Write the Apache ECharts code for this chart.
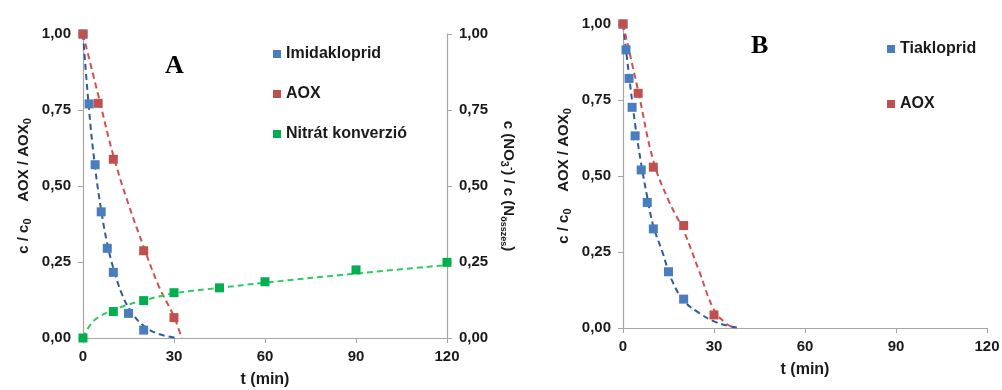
<!DOCTYPE html>
<html>
<head>
<meta charset="utf-8">
<script src="https://cdn.jsdelivr.net/npm/echarts@6/dist/echarts.min.js"></script>
<style>
  html, body { margin: 0; padding: 0; background: #fff; }
  #chart { width: 1002px; height: 390px; }
</style>
</head>
<body>
<div id="chart"></div>
<script>
// ---- panel A: Imidakloprid ----
const timeImidA = [0, 2, 4, 6, 8, 10, 15, 20];
const imidA = [1.00, 0.77, 0.57, 0.415, 0.295, 0.216, 0.081, 0.026];
const timeAoxA = [0, 5, 10, 20, 30];
const aoxA = [1.00, 0.772, 0.588, 0.287, 0.067];
const timeNitA = [0, 10, 20, 30, 45, 60, 90, 120];
const nitA = [0, 0.087, 0.123, 0.149, 0.165, 0.185, 0.224, 0.249];

// dashed fit curves
const fitTimeImidA = [0, 2, 4, 6, 8, 10, 13, 16, 20, 25, 31];
const fitImidA = [1.0, 0.75, 0.56, 0.42, 0.31, 0.23, 0.14, 0.085, 0.04, 0.013, 0];
const fitTimeAoxA = [0, 5, 10, 15, 20, 25, 30, 32.5];
const fitAoxA = [1.0, 0.80, 0.60, 0.44, 0.30, 0.17, 0.07, 0];
const fitTimeNitA = [0, 2.5, 5, 10, 15, 20, 30, 45, 60, 90, 120];
const fitNitA = [0, 0.045, 0.068, 0.092, 0.11, 0.124, 0.147, 0.165, 0.182, 0.212, 0.24];

// ---- panel B: Tiakloprid ----
const timeTiaB = [0, 1, 2, 3, 4, 6, 8, 10, 15, 20];
const tiaB = [1.00, 0.915, 0.821, 0.726, 0.632, 0.520, 0.413, 0.326, 0.185, 0.095];
const timeAoxB = [0, 5, 10, 20, 30];
const aoxB = [1.00, 0.772, 0.529, 0.337, 0.043];

const fitTimeTiaB = [0, 2, 4, 6, 8, 10, 13, 16, 20, 25, 30, 35, 38.5];
const fitTiaB = [1.0, 0.83, 0.67, 0.54, 0.43, 0.335, 0.25, 0.16, 0.09, 0.05, 0.022, 0.006, 0];
const fitTimeAoxB = [0, 5, 10, 15, 20, 25, 30, 34, 37];
const fitAoxB = [1.0, 0.78, 0.55, 0.42, 0.32, 0.19, 0.06, 0.015, 0];

const FONT = '"Liberation Sans", Arial, sans-serif';
const BLUE = '#4a7dbd', RED = '#c0504d', GREEN = '#00b050';
const BLUE_LINE = '#2f5b9a', RED_LINE = '#d0504d', GREEN_LINE = '#2ecc5f';

const pairs = (xs, ys) => xs.map((x, i) => [x, ys[i]]);
const comma = v => v.toFixed(2).replace('.', ',');

const axisLine = { lineStyle: { color: '#a6a6a6', width: 1.2 } };
const tickLabel = { fontFamily: FONT, fontWeight: 'bold', fontSize: 15, color: '#1a1a1a' };
const txt = { fontFamily: FONT, fontWeight: 'bold', color: '#1a1a1a' };
const nameRich = {
  n: { ...txt, fontSize: 15, lineHeight: 18 },
  s: { ...txt, fontSize: 11, lineHeight: 18, verticalAlign: 'bottom' },
  sup: { ...txt, fontSize: 10, lineHeight: 18, verticalAlign: 'top' },
  sub2: { ...txt, fontSize: 9, lineHeight: 18, verticalAlign: 'bottom' }
};

function xAxisFor(gridIndex) {
  return {
    type: 'value', gridIndex, min: 0, max: 120, interval: 30,
    axisLine: { show: true, ...axisLine },
    axisTick: { show: true, length: 5, lineStyle: { color: '#a6a6a6' } },
    splitLine: { show: false },
    axisLabel: { ...tickLabel, margin: 11 },
    name: 't (min)', nameLocation: 'middle', nameGap: 34,
    nameTextStyle: { ...txt, fontSize: 16 }
  };
}

function yAxisFor(gridIndex, position, name, nameGap, rotate) {
  return {
    type: 'value', gridIndex, position, min: 0, max: 1, interval: 0.25,
    axisLine: { show: true, ...axisLine },
    axisTick: { show: true, length: 5, lineStyle: { color: '#a6a6a6' } },
    splitLine: { show: false },
    axisLabel: { ...tickLabel, margin: 12, formatter: comma },
    name, nameLocation: 'middle', nameGap, nameRotate: rotate,
    nameTextStyle: { rich: nameRich }
  };
}

function points(name, xs, ys, color, xi, yi) {
  return {
    name, type: 'scatter', xAxisIndex: xi, yAxisIndex: yi,
    data: pairs(xs, ys), symbol: 'rect', symbolSize: 9,
    itemStyle: { color, opacity: 1 }, z: 5
  };
}

function curve(xs, ys, color, xi, yi) {
  return {
    type: 'line', xAxisIndex: xi, yAxisIndex: yi,
    data: pairs(xs, ys), smooth: 0.4, showSymbol: false, silent: true,
    lineStyle: { color, width: 2, type: [6, 4] }, z: 3
  };
}

const chart = echarts.init(document.getElementById('chart'));

chart.setOption({
  animation: false,
  backgroundColor: '#fff',
  grid: [
    { left: 83, top: 34, width: 364, height: 304, outerBoundsMode: 'none' },
    { left: 623, top: 24, width: 364, height: 304, outerBoundsMode: 'none' }
  ],
  xAxis: [xAxisFor(0), xAxisFor(1)],
  yAxis: [
    yAxisFor(0, 'left', '{n|c / c}{s|0}{n|    AOX / AOX}{s|0}', 50, 90),
    yAxisFor(0, 'right', '{n|c (NO}{s|3}{sup|-}{n|) / c (N}{sub2|összes}{n|)}', 52, -90),
    yAxisFor(1, 'left', '{n|c / c}{s|0}{n|    AOX / AOX}{s|0}', 50, 90)
  ],
  legend: [
    {
      data: ['Imidakloprid', 'AOX', 'Nitrát konverzió'],
      orient: 'vertical', left: 268, top: 41, itemGap: 24,
      icon: 'rect', itemWidth: 8, itemHeight: 8,
      textStyle: { ...txt, fontSize: 16 }
    },
    {
      data: ['Tiakloprid', 'AOX B'],
      formatter: n => n === 'AOX B' ? 'AOX' : n,
      orient: 'vertical', left: 882, top: 36, itemGap: 39,
      icon: 'rect', itemWidth: 8, itemHeight: 8,
      textStyle: { ...txt, fontSize: 16 }
    }
  ],
  graphic: [
    { type: 'text', left: 165, top: 53, style: { text: 'A', font: 'bold 26px "Liberation Serif", serif', fill: '#000' } },
    { type: 'text', left: 751, top: 33, style: { text: 'B', font: 'bold 26px "Liberation Serif", serif', fill: '#000' } }
  ],
  series: [
    curve(fitTimeImidA, fitImidA, BLUE_LINE, 0, 0),
    curve(fitTimeAoxA, fitAoxA, RED_LINE, 0, 0),
    curve(fitTimeNitA, fitNitA, GREEN_LINE, 0, 1),
    points('Imidakloprid', timeImidA, imidA, BLUE, 0, 0),
    points('AOX', timeAoxA, aoxA, RED, 0, 0),
    points('Nitrát konverzió', timeNitA, nitA, GREEN, 0, 1),
    curve(fitTimeTiaB, fitTiaB, BLUE_LINE, 1, 2),
    curve(fitTimeAoxB, fitAoxB, RED_LINE, 1, 2),
    points('Tiakloprid', timeTiaB, tiaB, BLUE, 1, 2),
    points('AOX B', timeAoxB, aoxB, RED, 1, 2)
  ]
});
</script>
</body>
</html>
